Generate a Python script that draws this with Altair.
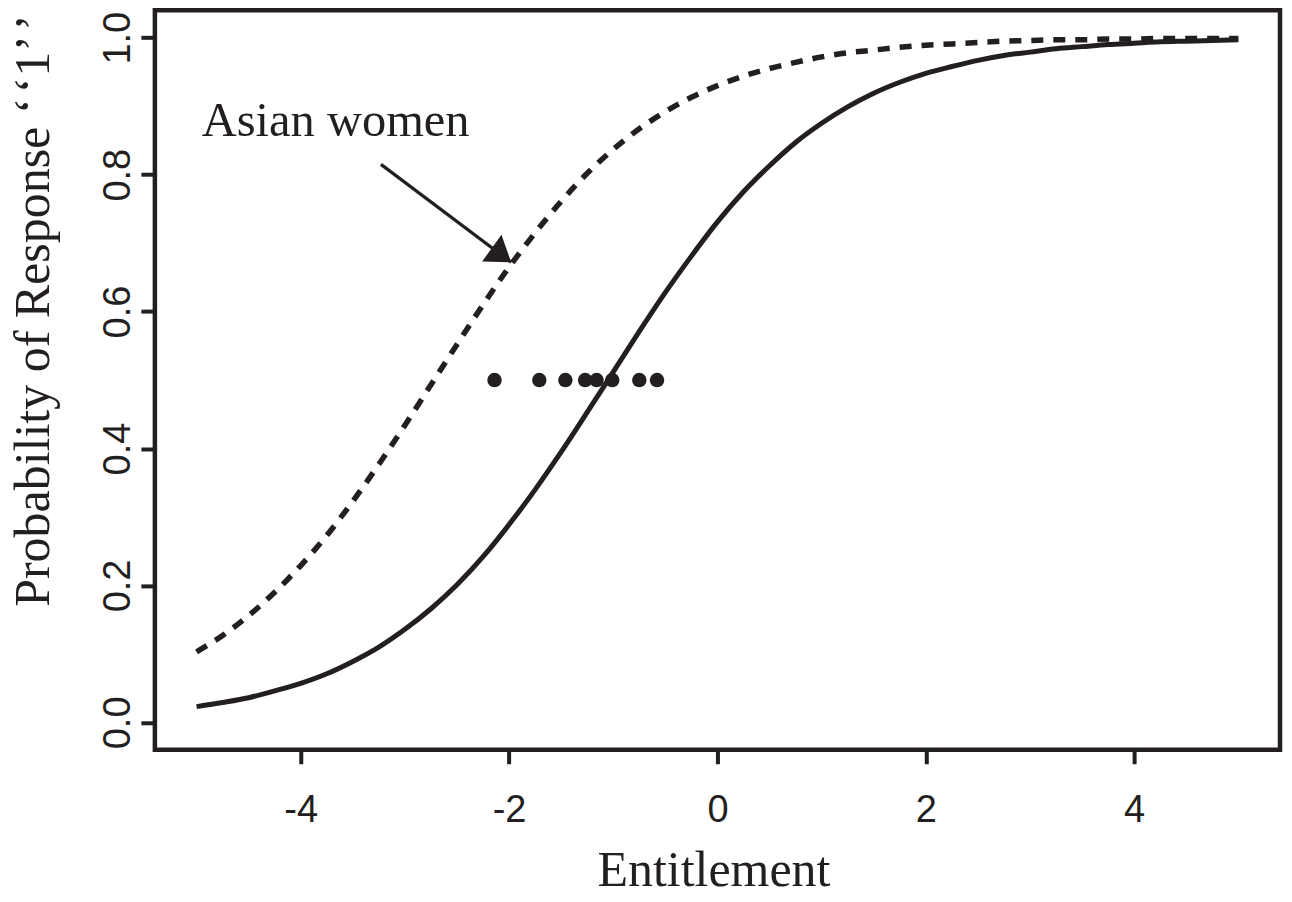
import altair as alt
import pandas as pd

INK = "#231f20"

# Curve values (Entitlement vs probability)
x_grid = [-5, -4.75, -4.5, -4.25, -4, -3.75, -3.5, -3.25, -3, -2.75, -2.5, -2.25, -2,
          -1.75, -1.5, -1.25, -1, -0.75, -0.5, -0.25, 0, 0.25, 0.5, 0.75, 1, 1.25,
          1.5, 1.75, 2, 2.25, 2.5, 2.75, 3, 3.25, 3.5, 3.75, 4, 4.25, 4.5, 4.75, 5]
p_solid = [0.023, 0.029, 0.036, 0.046, 0.057, 0.071, 0.089, 0.110, 0.136, 0.166, 0.201,
           0.242, 0.289, 0.340, 0.395, 0.453, 0.512, 0.571, 0.628, 0.681, 0.731, 0.775,
           0.813, 0.847, 0.875, 0.899, 0.919, 0.935, 0.948, 0.958, 0.967, 0.974, 0.979,
           0.984, 0.987, 0.990, 0.992, 0.994, 0.995, 0.996, 0.997]
p_dashed = [0.103, 0.127, 0.156, 0.190, 0.229, 0.273, 0.323, 0.377, 0.434, 0.493, 0.552,
            0.610, 0.665, 0.715, 0.761, 0.802, 0.837, 0.867, 0.892, 0.913, 0.930, 0.944,
            0.955, 0.964, 0.972, 0.978, 0.982, 0.986, 0.989, 0.991, 0.993, 0.995, 0.996,
            0.997, 0.997, 0.998, 0.998, 0.999, 0.999, 0.999, 0.999]

# Dots along p = 0.5
dot_x = [-2.14, -1.71, -1.46, -1.27, -1.16, -1.01, -0.75, -0.58]
dot_y = [0.5] * len(dot_x)

# Annotation
label_text = ["Asian women"]
label_pos = [-4.95, 0.856]
arrow_start = [-3.23, 0.815]
arrow_end = [-1.98, 0.672]

x_ticks = [-4, -2, 0, 2, 4]
y_ticks = [0.0, 0.2, 0.4, 0.6, 0.8, 1.0]

xs = alt.Scale(domain=[-5.4, 5.4], nice=False, zero=False)
ys = alt.Scale(domain=[-0.04, 1.04], nice=False, zero=False)

W, H = 1126, 740

df_solid = pd.DataFrame({"x": x_grid, "p": p_solid})
df_dashed = pd.DataFrame({"x": x_grid, "p": p_dashed})
df_dots = pd.DataFrame({"x": dot_x, "p": dot_y})
df_label = pd.DataFrame({"x": [label_pos[0]], "p": [label_pos[1]], "t": label_text})
df_arrow = pd.DataFrame({"x": [arrow_start[0]], "p": [arrow_start[1]],
                         "x2": [arrow_end[0]], "p2": [arrow_end[1]]})
df_head = pd.DataFrame({"x": [arrow_end[0]], "p": [arrow_end[1]]})

x_axis = alt.Axis(
    values=x_ticks, grid=False, domain=False, ticks=True, tickSize=14, tickWidth=4,
    tickColor=INK, labelFont="Liberation Sans", labelFontSize=38, labelColor=INK,
    labelPadding=28, labelBaseline="top", labelExpr="datum.value + ''",
    title="Entitlement", titleFont="Liberation Serif", titleFontSize=50,
    titleFontWeight="normal", titleColor=INK, titleBaseline="alphabetic",
    titleAlign="center", titleX=559, titleY=136,
)
y_axis = alt.Axis(
    values=y_ticks, format=".1f", grid=False, domain=False, ticks=True, tickSize=14,
    tickWidth=4, tickColor=INK, labelFont="Liberation Sans", labelFontSize=38,
    labelColor=INK, labelAngle=270, labelAlign="center", labelBaseline="bottom",
    labelPadding=3,
    title="Probability of Response \u2018\u200a\u20181\u2019\u200a\u2019",
    titleFont="Liberation Serif",
    titleFontSize=50, titleFontWeight="normal", titleColor=INK, titleAngle=270,
    titleAlign="center", titleBaseline="alphabetic", titleX=-106, titleY=300,
)

X = alt.X("x:Q", scale=xs, axis=x_axis)
Y = alt.Y("p:Q", scale=ys, axis=y_axis)

solid = alt.Chart(df_solid).mark_line(color=INK, strokeWidth=5, interpolate="monotone").encode(
    x=X, y=Y,
)
dashed = alt.Chart(df_dashed).mark_line(
    color=INK, strokeWidth=5.5, strokeDash=[12, 10], strokeCap="butt", interpolate="monotone"
).encode(x=X, y=Y)
dots = alt.Chart(df_dots).mark_circle(color=INK, size=210, opacity=1).encode(x=X, y=Y)
arrow = alt.Chart(df_arrow).mark_rule(color=INK, strokeWidth=3.2).encode(
    x=X, y=Y, x2="x2:Q", y2="p2:Q",
)
head = alt.Chart(df_head).mark_point(
    shape="M0,0 L-0.55,0.8 L0.55,0.8 Z", filled=True, color=INK, opacity=1,
    size=3600, angle=126, strokeWidth=0,
).encode(x=X, y=Y)
label = alt.Chart(df_label).mark_text(
    align="left", baseline="alphabetic", font="Liberation Serif", fontSize=48.5, color=INK
).encode(x=X, y=Y, text="t:N")

chart = alt.layer(solid, dashed, dots, arrow, head, label).properties(
    width=W, height=H,
    autosize=alt.AutoSizeParams(type="none"),
    padding={"left": 147, "top": 2, "right": 4, "bottom": 140},
    background="white",
).configure_view(stroke=INK, strokeWidth=4.5)

chart.save("out.html", embed_options={"renderer": "svg", "actions": False})
